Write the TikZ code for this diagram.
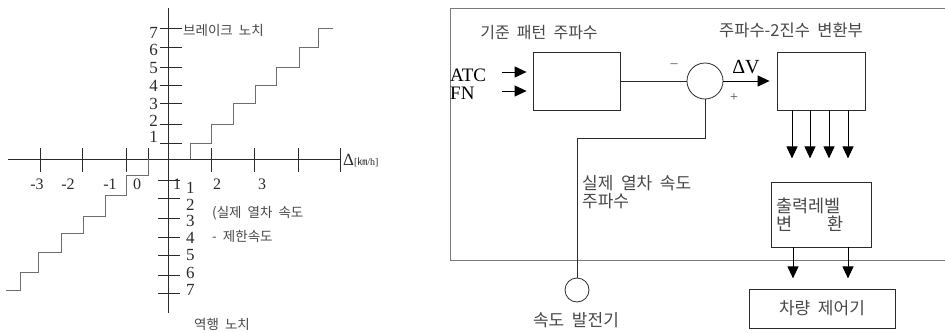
\documentclass[tikz,border=0pt]{standalone}
\usepackage{fontspec}
\setmainfont{Liberation Serif}
\newfontfamily\kr[WordSpace=2]{Noto Sans CJK KR}
\usetikzlibrary{positioning, arrows.meta, calc}
\definecolor{cAxis}{HTML}{2B2B2B}
\definecolor{cStair}{HTML}{6E6E6E}
\definecolor{cFrame}{HTML}{7A7A7A}
\definecolor{cText}{HTML}{484848}

\begin{document}
\begin{tikzpicture}[
    x=1pt, y=-1pt,
    >={Triangle[length=12pt, width=11pt]},
    ax/.style={line width=0.8pt, draw=cAxis},
    stair/.style={line width=1pt, draw=cStair},
    ynum/.style={font=\fontsize{17}{17}\selectfont, inner sep=0pt, text=cAxis},
    xnum/.style={font=\fontsize{16}{16}\selectfont, inner sep=0pt, text=cAxis},
    klbl/.style={font=\kr\fontsize{13.5}{15}\selectfont, text=cText, inner sep=0pt},
    kbig/.style={font=\kr\fontsize{17}{18}\selectfont, text=cText, inner sep=0pt},
    block/.style={draw=cAxis, line width=0.8pt, inner sep=0pt},
    wire/.style={line width=0.8pt, draw=cAxis},
    arr/.style={->, line width=1pt, draw=black},
]
\useasboundingbox (0,0) rectangle (945,332);

% =============================================
% LEFT: notch staircase over speed difference
% =============================================

% axes
\coordinate (xL) at (8,159);
\coordinate (xR) at (340,159);
\coordinate (yT) at (168,8);
\coordinate (yB) at (168,313);
\draw[ax] (xL) -- (xR);
\draw[ax] (yT) -- (yB);

% ticks on the speed axis
\foreach \x in {40,82,126,148,211,254,298,340}
    \draw[ax] (\x,148) -- (\x,172);

% brake notches (upper) and powering notches (lower)
\foreach \y/\ly/\n in {28/33/7, 47/50/6, 67/68/5, 85/86/4, 103/104/3, 124/121/2, 143/137/1} {
    \draw[ax] (160,\y) -- (182,\y);
    \node[ynum, anchor=east] (up\n) at (158,\ly) {\n};
}
\foreach \y/\ly/\n in {180/188/1, 198/205/2, 218/221/3, 237/238/4, 255/255/5, 275/273/6, 293/290/7} {
    \draw[ax] (158,\y) -- (180,\y);
    \node[ynum, anchor=west] (dn\n) at (186,\ly) {\n};
}

% speed axis numbers
\foreach \x/\t in {37/-3, 68/-2, 110/-1, 137/0, 177/1, 217/2, 262/3}
    \node[xnum] at (\x,184) {\t};

% staircases
\draw[stair] (190,159) -- (190,143) -- (211,143) -- (211,124) -- (233,124)
    -- (233,103) -- (255,103) -- (255,85) -- (276,85) -- (276,67) -- (299,67)
    -- (299,47) -- (318,47) -- (318,28) -- (333,28);
\draw[stair] (148,159) -- (148,175) -- (126,175) -- (126,195) -- (105,195)
    -- (105,216) -- (83,216) -- (83,233) -- (61,233) -- (61,252) -- (38,252)
    -- (38,272) -- (20,272) -- (20,290) -- (6,290);

% labels
\node[klbl, anchor=west] (brk) at (183,30) {브레이크 노치};
\node[klbl, anchor=north] (pwr) at (222,318) {역행 노치};
\node[klbl, anchor=north west, align=left, font=\kr\fontsize{13.5}{24}\selectfont]
    (dlt) at (212,206) {(실제 열차 속도\\- 제한속도};
\node[anchor=west, inner sep=0pt, text=cAxis] (axlbl) at (343,161)
    {{\fontsize{17}{17}\selectfont Δ}{\fontsize{10}{10}\selectfont[{\kr ㎞}/h]}};

% =============================================
% RIGHT: frequency comparison block diagram
% =============================================

% frame (open to the right)
\draw[line width=0.8pt, draw=cFrame] (945,8) -- (450,8) -- (450,260) -- (945,260);

\node[block, minimum width=87pt, minimum height=58pt] (pat) at (576.5,81) {};
\node[block, minimum width=88pt, minimum height=58pt] (conv) at (821,81) {};
\node[block, circle, minimum size=36pt] (sum) at (705,81) {};
\node[block, minimum width=100pt, minimum height=65pt, text width=90pt,
      inner xsep=5pt, align=left, font=\kr\fontsize{17.5}{18}\selectfont, text=cText]
      (lvl) at (821,214.5) {출력레벨\\변\hspace{2em}환};
\node[block, minimum width=146pt, minimum height=39pt, font=\kr\fontsize{17}{18}\selectfont,
      text=cText] (ctrl) at (822,308.5) {차량 제어기};
\node[block, circle, minimum size=24pt] (gen) at (577,290) {};

% titles
\node[kbig, font=\kr\fontsize{16}{17}\selectfont] (patT) at (539,33) {기준 패턴 주파수};
\node[kbig, font=\kr\fontsize{16.5}{17}\selectfont] (convT) at (791,30) {주파수-2진수 변환부};
\node[kbig, anchor=north west, align=left] (actT) at (582,175) {실제 열차 속도\\주파수};
\node[kbig] (genT) at (576,320) {속도 발전기};

% inputs
\node[font=\fontsize{19}{19}\selectfont, anchor=west, inner sep=0pt] (atc) at (450,75) {ATC};
\node[font=\fontsize{19}{19}\selectfont, anchor=west, inner sep=0pt] (fn) at (450,93) {FN};
\coordinate (atcIn) at (502,72);
\coordinate (fnIn) at (502,91);
\draw[arr, shorten >=6pt] (atcIn) -- (pat.west |- atcIn);
\draw[arr, shorten >=6pt] (fnIn) -- (pat.west |- fnIn);

% comparison
\draw[wire] (pat.east) -- (sum.west);
\draw[arr, shorten >=7pt] (sum.east) -- (conv.west);
\node[font=\fontsize{14}{14}\selectfont, inner sep=0pt, text=cText] (minus) at (674,66) {–};
\node[font=\fontsize{14}{14}\selectfont, inner sep=0pt, text=cText] (plus) at (734,98) {+};
\node[font=\fontsize{20}{20}\selectfont, inner sep=0pt] (dv) at (746,67) {ΔV};

% feedback from speed generator
\coordinate (tap) at (705,138);
\draw[wire] (sum.south) -- (tap) -| (gen.north);

% binary outputs
\foreach \dx in {-29,-11,8,27}
    \draw[arr] ($(conv.south)+(\dx,0)$) -- ($(conv.south)+(\dx,48)$);

% level outputs
\foreach \dx in {-28,27}
    \draw[arr] ($(lvl.south)+(\dx,0)$) -- ($(lvl.south)+(\dx,31)$);

\end{tikzpicture}
\end{document}
